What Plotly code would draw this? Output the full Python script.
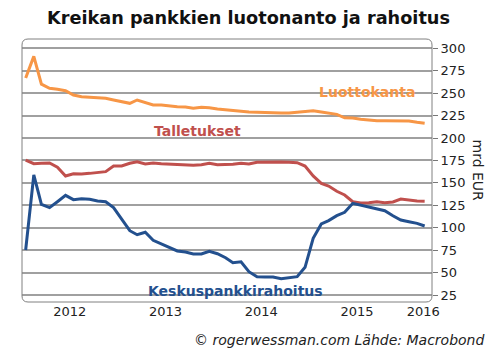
import plotly.graph_objects as go

# ---- data (monthly, Jan 2012 - Mar 2016), mrd EUR ----
months = [f"{2012 + i // 12}-{i % 12 + 1:02d}-15" for i in range(51)]

luottokanta = [267, 291, 260, 255.4, 254.3, 252.7, 248, 246, 245.4, 244.6, 244.3, 242.4,
               240.5, 238.7, 242.4, 239.4, 236.8, 236.8, 235.7, 234.9, 234.6, 233.1, 234.2, 233.8,
               232.3, 231.4, 230.1, 229.3, 229, 228.6, 228.2, 227.9, 227.9, 227.9, 228.6, 230.1,
               230.5, 229, 227.9, 226.4, 222.6, 222.3, 220.9, 219.7, 219.3, 219.3, 219.3, 219.7,
               219, 217.5, 216.4]

talletukset = [175.5, 171.4, 171.8, 172.2, 167.4, 157.7, 160.2, 159.9, 160.6, 161.8, 162.5, 168.8,
               168.8, 171.8, 173.6, 171, 172.2, 171.4, 171, 171, 170.7, 169.6, 170.3, 171.8,
               170.3, 170.3, 170.7, 171.8, 171, 172.9, 173.3, 173.3, 173.3, 172.9, 172.5, 168.8,
               157.7, 149.5, 146.5, 140.6, 136.5, 129, 127.6, 127.9, 129, 127.9, 128.7, 132,
               130.6, 129.8, 129.5]

keskuspankki = [75.2, 158.8, 126.1, 122.4, 129, 136.1, 131.3, 132.4, 131.7, 129.8, 129, 122.4,
                109.7, 96.7, 92.2, 94.9, 86, 81.9, 77.8, 74.1, 73, 70.7, 70.7, 73.7,
                71, 66.5, 61, 62.1, 51, 45.4, 45.1, 45.1, 43.2, 44.3, 45.4, 55.9,
                88.2, 104.2, 107.9, 113.4, 117.2, 127.2, 125.3, 123.1, 120.9, 119, 113.4, 108.6,
                106.7, 104.9, 101.9]

year_labels = ["2012", "2013", "2014", "2015", "2016"]
year_label_pos = ["2012-07-01", "2013-07-01", "2014-07-01", "2015-07-01", "2016-03-10"]
year_starts = ["2012-01-01", "2013-01-01", "2014-01-01", "2015-01-01", "2016-01-01"]
y_ticks = list(range(25, 301, 25))

x_range = ["2012-01-01", "2016-04-12"]
y_range = [17.2, 310.4]

ORANGE = "#F79646"
RED = "#C0504D"
BLUE = "#23508E"
FONT = "DejaVu Sans"

fig = go.Figure()
fig.add_trace(go.Scatter(x=months, y=luottokanta, mode="lines",
                         line=dict(color=ORANGE, width=3), showlegend=False))
fig.add_trace(go.Scatter(x=months, y=talletukset, mode="lines",
                         line=dict(color=RED, width=3), showlegend=False))
fig.add_trace(go.Scatter(x=months, y=keskuspankki, mode="lines",
                         line=dict(color=BLUE, width=3), showlegend=False))

W, H = 496, 361
ml, mr, mt, mb = 22, 64, 39, 59
pw, ph = W - ml - mr, H - mt - mb
rx, ry = 6 / pw, 6 / ph
border = (f"M {rx},0 L {1-rx},0 Q 1,0 1,{ry} L 1,{1-ry} Q 1,1 {1-rx},1 "
          f"L {rx},1 Q 0,1 0,{1-ry} L 0,{ry} Q 0,0 {rx},0 Z")


def px(x):
    return (x - ml) / pw


def py(y):
    return (H - mb - y) / ph


fig.update_layout(
    width=W, height=H,
    margin=dict(l=ml, r=mr, t=mt, b=mb, pad=0),
    paper_bgcolor="white", plot_bgcolor="white",
    font=dict(family=FONT, size=13, color="#222222"),
    hovermode=False,
    xaxis=dict(type="date", range=x_range, tickmode="array",
               tickvals=year_label_pos, ticktext=year_labels,
               ticks="", showgrid=False, zeroline=False, showline=False,
               tickfont=dict(size=13, color="#222222")),
    xaxis2=dict(type="date", range=x_range, overlaying="x", anchor="y",
                tickmode="array", tickvals=year_starts, showticklabels=False,
                ticks="outside", ticklen=6, tickcolor="#777777", tickwidth=1,
                showgrid=True, gridcolor="#BDBDBD", gridwidth=2,
                zeroline=False, showline=False),
    yaxis=dict(side="right", range=y_range, tickmode="array", tickvals=y_ticks,
               ticks="outside", ticklen=5, tickcolor="#777777",
               showgrid=True, gridcolor="#A0A0A0", gridwidth=1.5,
               zeroline=False, showline=False,
               tickfont=dict(size=13, color="#222222")),
    shapes=[dict(type="path", xref="paper", yref="paper", path=border,
                 line=dict(color="#808080", width=1), layer="above")],
    annotations=[
        dict(text="<b>Kreikan pankkien luotonanto ja rahoitus</b>", xref="paper", yref="paper",
             x=px(248), y=py(18), xanchor="center", yanchor="middle",
             showarrow=False, font=dict(size=17.7, color="#111111", family=FONT)),
        dict(text="mrd EUR", xref="paper", yref="paper", x=px(478), y=0.5,
             xanchor="center", yanchor="middle", textangle=90, showarrow=False,
             font=dict(size=14, color="#222222", family=FONT)),
        dict(text="<b>Luottokanta</b>", xref="paper", yref="paper",
             x=px(367), y=py(92), xanchor="center", yanchor="middle",
             showarrow=False, font=dict(size=14, color=ORANGE, family=FONT)),
        dict(text="<b>Talletukset</b>", xref="paper", yref="paper",
             x=px(197), y=py(131), xanchor="center", yanchor="middle",
             showarrow=False, font=dict(size=14, color=RED, family=FONT)),
        dict(text="<b>Keskuspankkirahoitus</b>", xref="paper", yref="paper",
             x=px(235), y=py(291), xanchor="center", yanchor="middle",
             showarrow=False, font=dict(size=14, color=BLUE, family=FONT)),
        dict(text="<i>© rogerwessman.com Lähde: Macrobond</i>", xref="paper", yref="paper",
             x=px(486), y=py(340), xanchor="right", yanchor="middle",
             showarrow=False, font=dict(size=14, color="#222222", family=FONT)),
    ],
)

fig.write_html("out.html", config={"displayModeBar": False},
               post_script="document.body.style.margin='0';")
